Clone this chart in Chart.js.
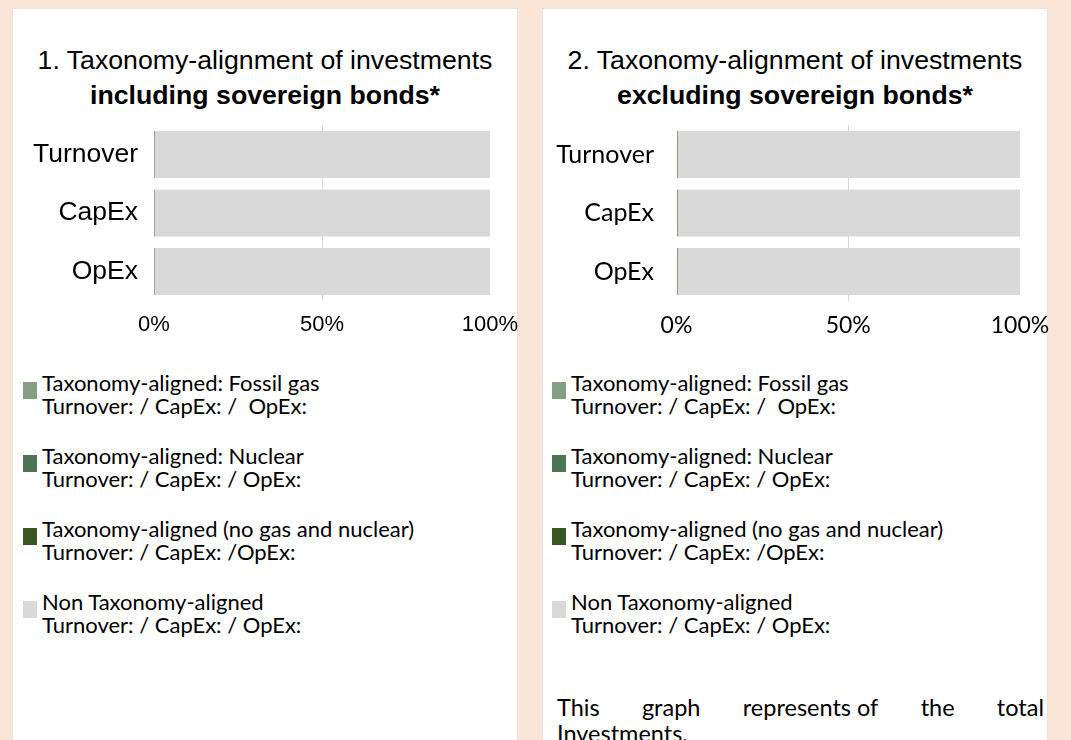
<!DOCTYPE html>
<html>
<head>
<meta charset="utf-8">
<script src="https://cdn.jsdelivr.net/npm/chart.js@4.4.3/dist/chart.umd.min.js"></script>
<style>
    html, body { margin: 0; padding: 0; }
    body {
        width: 1071px;
        height: 740px;
        background: #fbe5d6;
        position: relative;
        overflow: hidden;
    }
    .panel {
        position: absolute;
        top: 8px;
        width: 506px;
        height: 780px;
        background: #fff;
        border: 1px solid #e3e3e3;
        box-sizing: border-box;
    }
    .title {
        position: absolute;
        top: 43px;
        width: 506px;
        text-align: center;
        font-family: 'Liberation Sans', Arial, sans-serif;
        font-size: 26.7px;
        line-height: 35px;
        color: #000;
    }
    .title b { font-weight: bold; }
    canvas { position: absolute; }
    .legend-item {
        position: absolute;
        font-family: Lato, 'Open Sans', sans-serif;
        font-size: 22px;
        line-height: 23px;
        color: #000;
        white-space: pre;
    }
    .legend-box {
        position: absolute;
        width: 14px;
        height: 17px;
    }
    .note {
        position: absolute;
        left: 557px;
        width: 487px;
        font-family: Lato, 'Open Sans', sans-serif;
        font-size: 23.5px;
        line-height: 26px;
        color: #000;
    }
    .note.first { top: 694px; text-align: justify; text-align-last: justify; }
    .note.first span { display: inline-block; }
    .note.second { top: 720px; }
</style>
</head>
<body>
<div class="panel" style="left:12px"></div>
<div class="panel" style="left:542px"></div>

<div class="title" style="left:12px">1. Taxonomy-alignment of investments<br><b>including sovereign bonds*</b></div>
<div class="title" style="left:542px">2. Taxonomy-alignment of investments<br><b>excluding sovereign bonds*</b></div>

<canvas id="chartIncl" width="520" height="240" style="left:12px; top:110px"></canvas>
<canvas id="chartExcl" width="520" height="240" style="left:542px; top:110px"></canvas>

<div id="legendIncl"></div>
<div id="legendExcl"></div>

<div class="note first">This graph <span>represents of</span> the total</div>
<div class="note second">Investments.</div>

<script>
const categories = ['Turnover', 'CapEx', 'OpEx'];
const xTickValues = [0, 50, 100];

const seriesNames = [
    'Taxonomy-aligned: Fossil gas',
    'Taxonomy-aligned: Nuclear',
    'Taxonomy-aligned (no gas and nuclear)',
    'Non Taxonomy-aligned'
];
const seriesNotes = [
    'Turnover: / CapEx: /  OpEx:',
    'Turnover: / CapEx: / OpEx:',
    'Turnover: / CapEx: /OpEx:',
    'Turnover: / CapEx: / OpEx:'
];
const seriesColors = ['#84a082', '#4e7456', '#375623', '#d9d9d9'];

// 1. including sovereign bonds
const fossilGasIncl = [0, 0, 0];
const nuclearIncl = [0, 0, 0];
const alignedIncl = [0.3, 0.3, 0.3];
const nonAlignedIncl = [99.7, 99.7, 99.7];

// 2. excluding sovereign bonds
const fossilGasExcl = [0, 0, 0];
const nuclearExcl = [0, 0, 0];
const alignedExcl = [0.3, 0.3, 0.3];
const nonAlignedExcl = [99.7, 99.7, 99.7];

function buildChart(canvasId, seriesData, cfg) {
    const datasets = seriesNames.map((name, i) => ({
        label: name,
        data: seriesData[i],
        backgroundColor: seriesColors[i],
        borderWidth: 0,
        barPercentage: 0.8,
        categoryPercentage: 1
    }));

    return new Chart(document.getElementById(canvasId), {
        type: 'bar',
        data: { labels: categories, datasets: datasets },
        options: {
            indexAxis: 'y',
            responsive: false,
            animation: false,
            // canvas is 14px wider than the panel so the 100% label is not clipped
            layout: { padding: { top: 15.25, right: 42, bottom: 0, left: 0 } },
            plugins: {
                legend: { display: false },
                tooltip: { enabled: false },
                title: { display: false }
            },
            scales: {
                x: {
                    stacked: true,
                    min: 0,
                    max: 100,
                    afterBuildTicks: scale => {
                        scale.ticks = xTickValues.map(v => ({ value: v }));
                    },
                    ticks: {
                        callback: v => v + '%',
                        color: '#000',
                        font: { family: cfg.font, size: cfg.tickSize },
                        padding: 11,
                        maxRotation: 0,
                        autoSkip: false
                    },
                    grid: {
                        drawTicks: false,
                        color: ctx => (ctx.tick && ctx.tick.value === 50) ? '#d9d9d9' : 'rgba(0,0,0,0)'
                    },
                    border: { display: false },
                    afterFit: scale => {
                        scale.height = 49.25;
                        scale.paddingLeft = 0;
                        scale.paddingRight = 0;
                    }
                },
                y: {
                    stacked: true,
                    ticks: {
                        color: '#000',
                        font: { family: cfg.font, size: cfg.catSize },
                        padding: cfg.yPad
                    },
                    grid: { display: false, drawTicks: false },
                    border: { display: false },
                    afterFit: scale => {
                        scale.width = cfg.yWidth;
                        scale.paddingTop = 0;
                        scale.paddingBottom = 0;
                    }
                }
            }
        }
    });
}

function buildLegend(containerId, left) {
    const box = document.getElementById(containerId);
    seriesNames.forEach((name, i) => {
        const top = 371 + i * 73;
        const sq = document.createElement('div');
        sq.className = 'legend-box';
        sq.style.left = left + 'px';
        sq.style.top = (top + 11) + 'px';
        sq.style.background = seriesColors[i];
        box.appendChild(sq);

        const txt = document.createElement('div');
        txt.className = 'legend-item';
        txt.style.left = (left + 19) + 'px';
        txt.style.top = top + 'px';
        txt.textContent = name + '\n' + seriesNotes[i];
        box.appendChild(txt);
    });
}

buildChart('chartIncl', [fossilGasIncl, nuclearIncl, alignedIncl, nonAlignedIncl], {
    font: "'Liberation Sans', Arial, sans-serif",
    tickSize: 22,
    catSize: 26.5,
    yPad: 16,
    yWidth: 142
});

buildChart('chartExcl', [fossilGasExcl, nuclearExcl, alignedExcl, nonAlignedExcl], {
    font: "Lato, 'Open Sans', sans-serif",
    tickSize: 23,
    catSize: 25,
    yPad: 22.5,
    yWidth: 134.5
});

buildLegend('legendIncl', 23);
buildLegend('legendExcl', 552);
</script>
</body>
</html>
